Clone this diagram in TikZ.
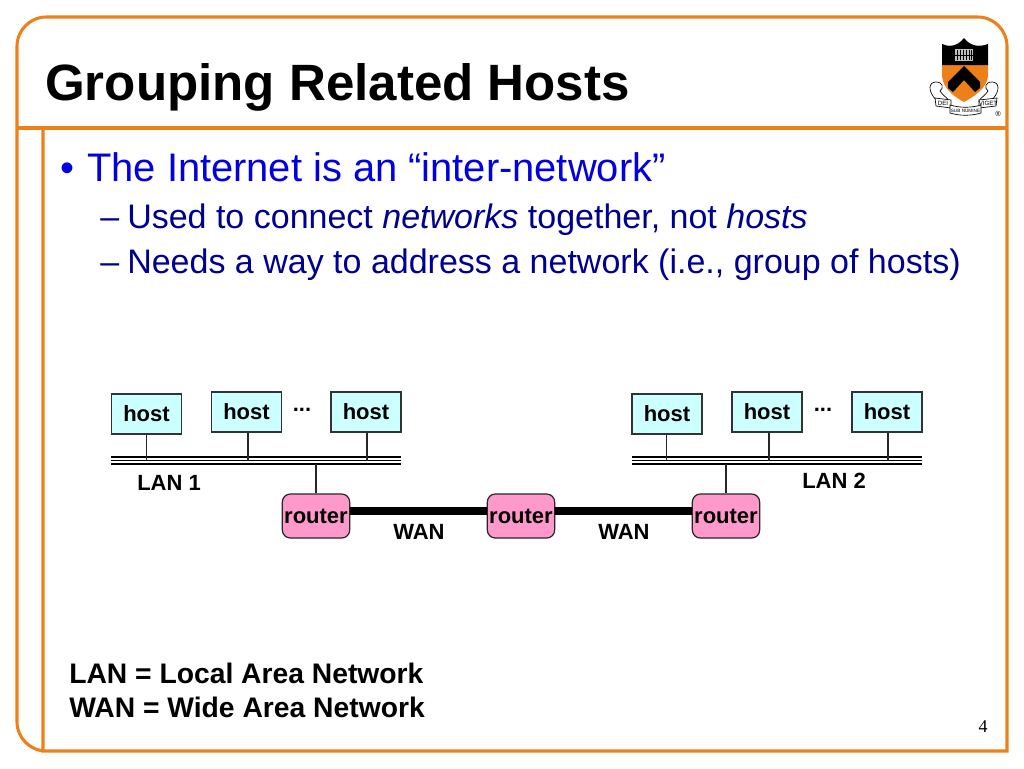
\documentclass[tikz,border=0pt]{standalone}
\usepackage{fontspec}
\setmainfont{Liberation Sans}
\newfontfamily\serifpage{Liberation Serif}
\usetikzlibrary{calc}
\definecolor{frameor}{HTML}{EE8019}
\definecolor{hostfill}{HTML}{CCFFFF}
\definecolor{routerfill}{HTML}{FF99CC}
\definecolor{bulblue}{HTML}{0000E0}
\definecolor{subnavy}{HTML}{000090}
\newcommand{\dropped}[1]{\raisebox{-0.7pt}{#1}}
\tikzset{
 x=0.75pt,y=-0.75pt,
 framel/.style={draw=frameor,line width=2.3pt},
 hostbox/.style={draw=black!80,fill=hostfill,line width=0.9pt,minimum width=52.5pt,minimum height=30pt,inner sep=0pt,font=\fontsize{16.5}{18}\selectfont\bfseries},
 routerbox/.style={draw=black!85,fill=routerfill,rounded corners=6pt,line width=0.9pt,minimum width=50.5pt,minimum height=33pt,inner sep=0pt,font=\fontsize{16.5}{18}\selectfont\bfseries},
 lanbus/.style={minimum width=217.5pt,minimum height=5.4pt,inner sep=0pt,outer sep=0pt},
 busline/.style={draw=black,line width=1pt},
 stub/.style={draw=black!85,line width=0.9pt},
 wanlink/.style={draw=black,line width=6pt},
 lbl/.style={inner sep=0pt,anchor=base west,font=\fontsize{16.5}{18}\selectfont\bfseries},
 legend/.style={inner sep=0pt,anchor=base west,font=\fontsize{21.2}{24}\selectfont\bfseries},
 bul/.style={inner sep=0pt,anchor=base west,text=bulblue,font=\fontsize{29.9}{32}\selectfont},
 subbul/.style={inner sep=0pt,anchor=base west,text=subnavy,font=\fontsize{25.5}{30}\selectfont},
 crestline/.style={draw=black,line width=0.5pt,fill=white},
}
\begin{document}
\begin{tikzpicture}
\useasboundingbox (0,0) rectangle (1024,768);
\fill[white] (0,0) rectangle (1024,768);
% frame
\draw[framel,line join=miter] (43,751) [rounded corners=22pt] -- (17,751) -- (17,17) -- (1007,17) -- (1007,100) [sharp corners] -- (1007,751) -- (43,751) -- (43,128);
\draw[framel] (17,128) -- (1007,128);
% title and text
\node[inner sep=0pt,anchor=base west,font=\fontsize{38.3}{42}\selectfont\bfseries] (title) at (45,100) {Grouping Related Hosts};
\node[bul] (b0) at (60,181) {•};
\node[bul] (b1) at (87,181) {The Internet is an “inter-network”};
\node[subbul] (d1) at (100,228) {–};
\node[subbul] (s1) at (127,228) {Used to connect \textit{networks} together, not \textit{hosts}};
\node[subbul] (d2) at (100,273) {–};
\node[subbul] (s2) at (127,273) {Needs a way to address a network (i.e., group of hosts)};
% crest
\fill[frameor] (942,62) -- (988,62) -- (988,76) .. controls (987,88) and (975,96) .. (964,102) .. controls (953,96) and (943,88) .. (942,76) -- cycle;
\fill[black] (942,44) .. controls (948,47) and (957,47) .. (964,38) .. controls (971,47) and (980,47) .. (988,44) -- (988,65) -- (942,65) -- cycle;
\fill[black] (948,82) -- (964,66) -- (980,82) -- (980,88) -- (975,92) -- (964,80) -- (953,92) -- (948,88) -- cycle;
\fill[white!75!black] (955,49) rectangle (973,61);
\foreach \xx in {956.5,959.5,962.5,965.5,968.5,971}
  \fill[black] (\xx,50) rectangle (\xx+1.2,60);
\fill[black] (955,54.6) rectangle (973,55.8);
\draw[crestline] (936,100) .. controls (927,90) and (929,82) .. (936,82) .. controls (943,82) and (944,88) .. (940,91) .. controls (943,96) and (948,98) .. (949,101) -- cycle;
\draw[crestline] (992,100) .. controls (1001,90) and (999,82) .. (992,82) .. controls (985,82) and (984,88) .. (988,91) .. controls (985,96) and (980,98) .. (979,101) -- cycle;
\draw[crestline] (935,98) -- (951,100) -- (951,108) -- (936,106) -- cycle;
\draw[crestline] (997,98) -- (979,100) -- (979,108) -- (996,106) -- cycle;
\draw[crestline] (950,105) .. controls (960,108) and (971,108) .. (981,105) -- (981,113) .. controls (971,116) and (960,116) .. (950,113) -- cycle;
\node[inner sep=0pt,font=\fontsize{4.6}{5}\selectfont] (cr1) at (943,103) {DEI};
\node[inner sep=0pt,font=\fontsize{3.5}{4}\selectfont] (cr2) at (965.5,110.5) {SUB NUMINE};
\node[inner sep=0pt,font=\fontsize{4.6}{5}\selectfont] (cr3) at (988,103) {VIGET};
\node[inner sep=0pt,font=\fontsize{5.5}{6}\selectfont] (cr4) at (998,114) {®};
% LAN buses
\node[lanbus] (lan1) at (256,460.5) {};
\node[lanbus] (lan2) at (777,460.5) {};
\foreach \L in {lan1,lan2}{
 \draw[busline] (\L.north west) -- (\L.north east);
 \draw[busline] (\L.west) -- (\L.east);
 \draw[busline] (\L.south west) -- (\L.south east);
}
% hosts
\node[hostbox] (h1) at (146.5,414) {\dropped{host}};
\node[hostbox] (h2) at (246.5,412) {\dropped{host}};
\node[hostbox] (h3) at (366,412) {\dropped{host}};
\node[hostbox] (h4) at (667,414) {\dropped{host}};
\node[hostbox] (h5) at (767,412) {\dropped{host}};
\node[hostbox] (h6) at (887,412) {\dropped{host}};
\node[lbl,anchor=base] (e1) at (302,411) {...};
\node[lbl,anchor=base] (e2) at (823,411) {...};
% routers
\node[routerbox] (r1) at (316,516) {\dropped{router}};
\node[routerbox] (r2) at (521,516) {\dropped{router}};
\node[routerbox] (r3) at (726,516) {\dropped{router}};
\draw[stub] (h1.south) -- (h1.south |- lan1.center);
\draw[stub] ([xshift=1.1pt]h2.south) -- ([xshift=1.1pt]h2.south |- lan1.center);
\draw[stub] ([xshift=0.8pt]h3.south) -- ([xshift=0.8pt]h3.south |- lan1.center);
\draw[stub] ([xshift=-0.5pt]h4.south) -- ([xshift=-0.5pt]h4.south |- lan2.center);
\draw[stub] ([xshift=1.5pt]h5.south) -- ([xshift=1.5pt]h5.south |- lan2.center);
\draw[stub] ([xshift=0.8pt]h6.south) -- ([xshift=0.8pt]h6.south |- lan2.center);
\draw[stub] (r1.north) -- (r1.north |- lan1.south);
\draw[stub] (r3.north) -- (r3.north |- lan2.south);
\draw[wanlink] ([yshift=3.75pt]r1.east) -- ([yshift=3.75pt]r2.west);
\draw[wanlink] ([yshift=3.75pt]r2.east) -- ([yshift=3.75pt]r3.west);
% labels
\node[lbl] (l1) at (137,490) {LAN 1};
\node[lbl] (l2) at (802,488) {LAN 2};
\node[lbl] (w1) at (393,539) {WAN};
\node[lbl] (w2) at (598,539) {WAN};
\node[legend] (leg1) at (69,683) {LAN = Local Area Network};
\node[legend] (leg2) at (69,717) {WAN = Wide Area Network};
\node[inner sep=0pt,anchor=base,font=\serifpage\fontsize{13.5}{15}\selectfont] (pg) at (983,732) {4};
\end{tikzpicture}
\end{document}
